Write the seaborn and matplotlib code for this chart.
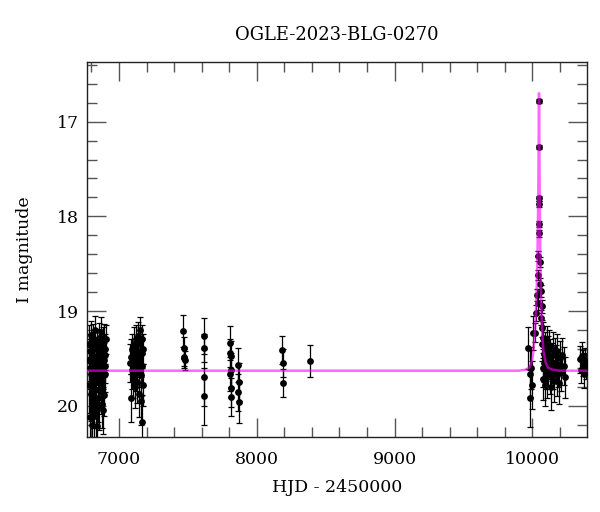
import numpy as np
import pandas as pd
import matplotlib
matplotlib.use("Agg")
import matplotlib.pyplot as plt
import seaborn as sns
from matplotlib.ticker import MultipleLocator

# --- photometry (HJD-2450000, I mag, error) ---
hjd_base1 = [6779, 6782, 6785, 6787, 6790, 6792, 6795, 6797, 6800, 6802, 6805, 6807, 6810,
             6812, 6815, 6817, 6820, 6822, 6825, 6827, 6830, 6833, 6835, 6837, 6840, 6842,
             6845, 6847, 6850, 6852, 6855, 6857, 6860, 6862, 6865, 6867, 6870, 6872, 6875,
             6877, 6880, 6882, 6885, 6886, 6888, 6890, 6891, 6893, 6895, 6897, 6899, 6902, 6904]
mag_base1 = [19.52, 19.78, 19.35, 20.12, 19.60, 19.42, 19.88, 19.25, 19.66, 20.20, 19.48, 19.74, 19.30,
             19.95, 19.55, 19.40, 20.05, 19.62, 19.20, 19.83, 19.50, 20.11, 19.68, 19.35, 20.21, 19.58,
             19.45, 19.92, 19.72, 19.28, 19.60, 20.00, 19.38, 19.64, 19.50, 19.85, 19.22, 19.56, 19.70,
             19.44, 19.98, 19.33, 19.62, 20.05, 19.47, 19.28, 19.89, 19.52, 19.66, 19.40, 19.58, 19.46, 19.30]
err_base1 = [0.22, 0.30, 0.20, 0.35, 0.22, 0.18, 0.28, 0.15, 0.22, 0.30, 0.18, 0.25, 0.16,
             0.28, 0.20, 0.18, 0.30, 0.22, 0.15, 0.25, 0.20, 0.28, 0.22, 0.16, 0.30, 0.20,
             0.18, 0.25, 0.22, 0.15, 0.20, 0.26, 0.18, 0.22, 0.20, 0.24, 0.16, 0.20, 0.22,
             0.18, 0.25, 0.16, 0.20, 0.25, 0.18, 0.14, 0.22, 0.18, 0.20, 0.16, 0.18, 0.16, 0.15]

hjd_base2 = [7082, 7086, 7090, 7094, 7098, 7102, 7106, 7110, 7114, 7118, 7122, 7126, 7130, 7134,
             7138, 7141, 7144, 7147, 7150, 7153, 7156, 7159, 7162, 7164, 7166, 7168, 7170, 7172, 7174]
mag_base2 = [19.55, 19.92, 19.48, 19.62, 19.40, 19.70, 19.35, 19.58, 19.80, 19.45, 19.64, 19.30, 19.52, 19.75,
             19.42, 19.26, 19.60, 19.88, 19.35, 19.50, 19.20, 19.68, 19.95, 20.17, 19.44, 19.30, 19.58, 19.78, 19.40]
err_base2 = [0.20, 0.25, 0.18, 0.20, 0.16, 0.22, 0.18, 0.20, 0.22, 0.16, 0.20, 0.15, 0.18, 0.22,
             0.16, 0.14, 0.20, 0.24, 0.15, 0.18, 0.14, 0.22, 0.25, 0.28, 0.16, 0.15, 0.18, 0.22, 0.16]

hjd_sparse = [7468, 7470, 7472, 7474, 7476, 7614, 7616, 7618, 7620, 7805, 7806, 7808, 7810, 7810,
              7812, 7814, 7865, 7866, 7868, 7870, 8186, 8188, 8190, 8386]
mag_sparse = [19.21, 19.50, 19.39, 19.48, 19.52, 19.26, 19.39, 19.70, 19.90, 19.34, 19.66, 19.44, 19.47, 19.91,
              19.62, 19.81, 19.57, 19.86, 19.75, 19.96, 19.41, 19.55, 19.76, 19.53]
err_sparse = [0.17, 0.10, 0.12, 0.10, 0.10, 0.19, 0.15, 0.30, 0.30, 0.18, 0.18, 0.15, 0.15, 0.20,
              0.18, 0.20, 0.18, 0.20, 0.20, 0.22, 0.15, 0.15, 0.15, 0.17]

hjd_rise = [9970, 9983, 9983, 9988, 9999, 10007, 10019]
mag_rise = [19.39, 19.66, 19.92, 19.60, 19.78, 19.23, 19.23]
err_rise = [0.22, 0.25, 0.30, 0.22, 0.25, 0.18, 0.10]

hjd_peak = [10048, 10049, 10045, 10051, 10045, 10051, 10040, 10055, 10040, 10055, 10062, 10030,
            10042, 10066, 10026, 10062, 10066]
mag_peak = [16.78, 17.27, 17.81, 17.87, 18.08, 18.18, 18.42, 18.48, 18.62, 18.71, 18.79, 18.83,
            18.92, 18.95, 19.02, 19.07, 19.18]
err_peak = [0.02, 0.02, 0.03, 0.03, 0.03, 0.04, 0.05, 0.05, 0.05, 0.06, 0.06, 0.06,
            0.07, 0.07, 0.08, 0.08, 0.09]

hjd_post = [10072, 10075, 10078, 10080, 10084, 10087, 10090, 10093, 10096, 10100, 10104, 10108,
            10112, 10116, 10120, 10125, 10130, 10135, 10140, 10146, 10152, 10158, 10164, 10170,
            10176, 10182, 10188, 10195, 10202, 10210, 10218, 10226, 10234,
            10345, 10352, 10360, 10368, 10375, 10382, 10390]
mag_post = [19.35, 19.60, 19.28, 19.72, 19.45, 19.55, 19.38, 19.78, 19.50, 19.62, 19.32, 19.70,
            19.44, 19.58, 19.36, 19.66, 19.48, 19.80, 19.54, 19.40, 19.62, 19.74, 19.46, 19.56,
            19.68, 19.42, 19.60, 19.76, 19.50, 19.64, 19.46, 19.58, 19.70,
            19.51, 19.62, 19.47, 19.55, 19.67, 19.53, 19.58]
err_post = [0.18, 0.20, 0.16, 0.22, 0.18, 0.20, 0.16, 0.22, 0.18, 0.20, 0.16, 0.22,
            0.18, 0.20, 0.16, 0.22, 0.18, 0.24, 0.20, 0.18, 0.20, 0.22, 0.18, 0.20,
            0.22, 0.18, 0.20, 0.22, 0.18, 0.20, 0.18, 0.20, 0.22,
            0.14, 0.14, 0.14, 0.14, 0.14, 0.14, 0.14]

# --- model curve ---
model_hjd = [6768, 9900, 9950, 9975, 9990, 10000, 10010, 10018, 10025, 10031, 10036, 10040,
             10043, 10045, 10047, 10048, 10049, 10051, 10053, 10056, 10060, 10065, 10072,
             10080, 10095, 10115, 10150, 10200, 10397]
model_mag = [19.63, 19.63, 19.62, 19.60, 19.56, 19.50, 19.38, 19.22, 19.02, 18.78, 18.48, 18.10,
             17.70, 17.30, 16.90, 16.70, 16.88, 17.35, 17.80, 18.25, 18.65, 18.98, 19.25,
             19.42, 19.54, 19.60, 19.62, 19.63, 19.63]

phot = pd.DataFrame({
    "hjd": hjd_base1 + hjd_base2 + hjd_sparse + hjd_rise + hjd_peak + hjd_post,
    "mag": mag_base1 + mag_base2 + mag_sparse + mag_rise + mag_peak + mag_post,
    "err": err_base1 + err_base2 + err_sparse + err_rise + err_peak + err_post,
})
model = pd.DataFrame({"hjd": model_hjd, "mag": model_mag})

sns.set_style("ticks")
plt.rcParams["font.family"] = ["DejaVu Serif"]
plt.rcParams["font.size"] = 12
plt.rcParams["text.color"] = "black"
plt.rcParams["axes.labelcolor"] = "black"
plt.rcParams["xtick.labelcolor"] = "black"
plt.rcParams["ytick.labelcolor"] = "black"

fig = plt.figure(figsize=(6, 5.12), dpi=100)
ax = fig.add_axes([0.145, 0.1465, 0.8333, 0.7324])

ax.errorbar(phot["hjd"], phot["mag"], yerr=phot["err"], fmt="none",
            ecolor="black", elinewidth=0.9, capsize=2.5, capthick=0.9, zorder=2)
sns.scatterplot(data=phot, x="hjd", y="mag", ax=ax, color="black", s=24,
                edgecolor="black", linewidth=0, zorder=3)
sns.lineplot(data=model, x="hjd", y="mag", ax=ax, color="#ff00ff", alpha=0.6,
             linewidth=1.8, zorder=4, sort=False)

ax.set_xlim(6768, 10396)
ax.set_ylim(20.33, 16.37)

ax.xaxis.set_major_locator(MultipleLocator(1000))
ax.xaxis.set_minor_locator(MultipleLocator(200))
ax.yaxis.set_major_locator(MultipleLocator(1))
ax.yaxis.set_minor_locator(MultipleLocator(0.2))
ax.tick_params(which="both", direction="in", top=True, right=True, color="#555555")
ax.tick_params(which="major", length=14, width=1.0)
ax.tick_params(which="minor", length=7, width=1.0)
ax.tick_params(axis="x", which="major", pad=10, labelsize=12.5)
ax.tick_params(axis="y", which="major", pad=6, labelsize=12.5)

for sp in ax.spines.values():
    sp.set_color("#222222")
    sp.set_linewidth(1.0)

ax.set_xlabel("HJD - 2450000", fontsize=12.5, labelpad=8)
ax.set_ylabel("I magnitude", fontsize=12.5, labelpad=17)
ax.set_title("OGLE-2023-BLG-0270", fontsize=13, pad=16)

fig.savefig("out.png", dpi=100)
